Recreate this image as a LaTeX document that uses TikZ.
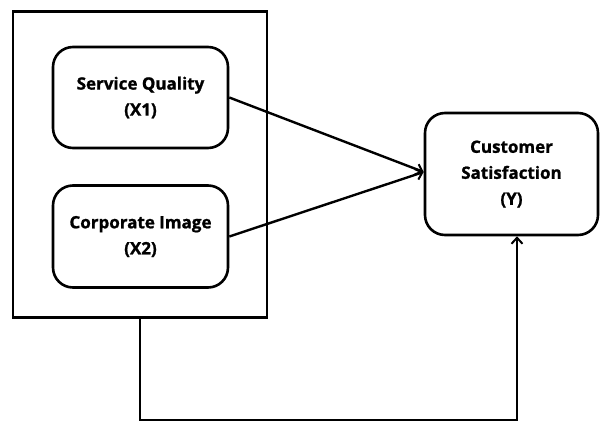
\documentclass[tikz,border=0pt]{standalone}
\usepackage{fontspec}
\setmainfont{Open Sans}[BoldFeatures={FakeBold=1.2}]
\usetikzlibrary{arrows.meta}
\begin{document}
\begin{tikzpicture}[x=1pt,y=-1pt,
  rbox/.style={draw, line width=2.6pt, rounded corners=20pt, align=center,
    font=\bfseries\fontsize{17}{26}\selectfont, inner sep=0pt},
  conn/.style={line width=2.4pt},
  tip/.style={-{Straight Barb[length=6pt,width=11pt,line width=2pt]}}]
\useasboundingbox (0,0) rectangle (602,423);
\node[draw, line width=2.6pt, minimum width=254pt, minimum height=306pt, inner sep=0pt] (outer) at (140,164.5) {};
\node[rbox, minimum width=175pt, minimum height=101pt] (x1) at (140.5,97.5) {Service Quality\\(X1)};
\node[rbox, minimum width=175pt, minimum height=102pt] (x2) at (140.5,236.5) {Corporate Image\\(X2)};
\node[rbox, minimum width=173pt, minimum height=122pt] (y) at (511.5,174) {Customer\\Satisfaction\\(Y)};
\coordinate (m) at (y.west |- 0,172);
\draw[conn,tip] (x1.east) -- (m);
\draw[conn,tip] (x2.east) -- (m);
\coordinate (b1) at (140,420);
\coordinate (b2) at (517,420);
\draw[conn,tip] (outer.south) -- (b1) -- (b2) -- (b2 |- y.south);
\end{tikzpicture}
\end{document}
